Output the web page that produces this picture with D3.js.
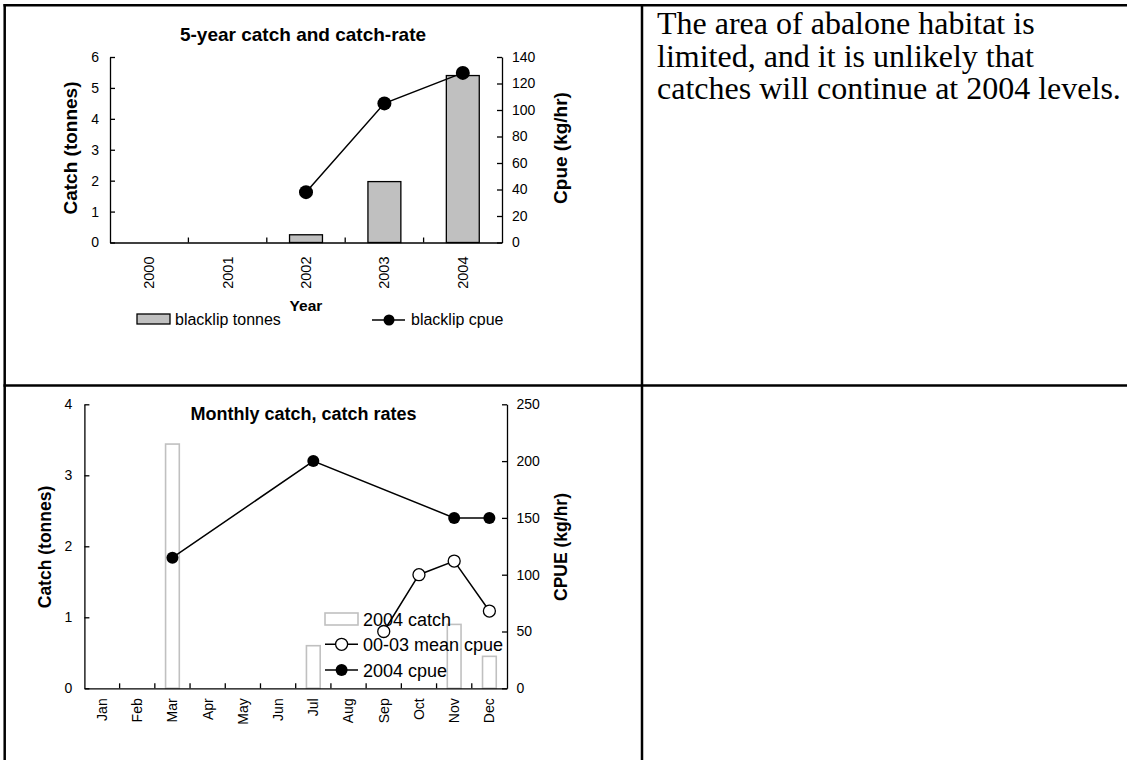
<!DOCTYPE html>
<html><head><meta charset="utf-8">
<script src="https://cdn.jsdelivr.net/npm/d3@7"></script>
<style>
body{margin:0;background:#fff}
svg{display:block}
text{font-family:"Liberation Sans",Arial,sans-serif;fill:#000}
</style>
</head><body>
<svg id="c" width="1127" height="760"></svg>
<script>
// ---- Data: top chart ----
const years = ["2000","2001","2002","2003","2004"];
const blacklipTonnes = [0, 0, 0.25, 1.97, 5.4];
const blacklipCpue = [null, null, 38, 105, 128];
const topLeftTicks = [0,1,2,3,4,5,6];
const topRightTicks = [0,20,40,60,80,100,120,140];

// ---- Data: bottom chart ----
const months = ["Jan","Feb","Mar","Apr","May","Jun","Jul","Aug","Sep","Oct","Nov","Dec"];
const catch2004 = [0,0,3.44,0,0,0,0.6,0,0,0,0.9,0.45];
const meanCpue0003 = [null,null,null,null,null,null,null,null,50,100,112,68];
const cpue2004 = [null,null,115,null,null,null,200,null,null,null,150,150];
const botLeftTicks = [0,1,2,3,4];
const botRightTicks = [0,50,100,150,200,250];

const noteLines = ["The area of abalone habitat is","limited, and it is unlikely that","catches will continue at 2004 levels."];

const svg = d3.select("#c");
const fmt = d3.format("d");

// ---- table frame ----
const frame = svg.append("g").attr("stroke","#000").attr("stroke-width",2.5);
frame.append("line").attr("x1",4.7).attr("x2",4.7).attr("y1",4).attr("y2",760);
frame.append("line").attr("x1",3.5).attr("x2",1127).attr("y1",5.3).attr("y2",5.3);
frame.append("line").attr("x1",642).attr("x2",642).attr("y1",4).attr("y2",760);
frame.append("line").attr("x1",3.5).attr("x2",1127).attr("y1",385.5).attr("y2",385.5);

// ---- note text ----
const note = svg.append("text")
  .style("font-family",'"Liberation Serif","Times New Roman",serif').style("font-size","32px");
noteLines.forEach((t,i)=>note.append("tspan").attr("x",657).attr("y",34.3+i*32.5).text(t));

function styleAxis(g, axis, fs){
  g.call(axis);
  g.selectAll("path,line").attr("stroke","#000").attr("stroke-width",1.3);
  g.selectAll("text").style("font-size",fs+"px").style("font-family",'"Liberation Sans",Arial,sans-serif');
}

// =========== TOP CHART ===========
{
  const x0=110, x1=502, yb=242.5, yt=57;
  const x = d3.scaleBand().domain(years).range([x0,x1]).padding(0);
  const yL = d3.scaleLinear().domain([0,6]).range([yb,yt]);
  const yR = d3.scaleLinear().domain([0,140]).range([yb,yt]);
  const g = svg.append("g");
  const cx = c=>x(c)+x.bandwidth()/2;

  g.append("text").attr("x",303).attr("y",41).attr("text-anchor","middle")
    .style("font-size","19px").style("font-weight","bold").text("5-year catch and catch-rate");

  const bw = x.bandwidth()*0.42;
  g.selectAll("rect.bar").data(years.map((c,i)=>({c,v:blacklipTonnes[i]})).filter(d=>d.v>0))
    .join("rect").attr("x",d=>cx(d.c)-bw/2).attr("width",bw)
    .attr("y",d=>yL(d.v)).attr("height",d=>yb-yL(d.v))
    .attr("fill","#c0c0c0").attr("stroke","#000").attr("stroke-width",1.3);

  styleAxis(g.append("g").attr("transform",`translate(${x0},0)`),
    d3.axisLeft(yL).tickValues(topLeftTicks).tickFormat(fmt).tickSize(-5).tickSizeOuter(0).tickPadding(11), 14);
  styleAxis(g.append("g").attr("transform",`translate(${x1},0)`),
    d3.axisRight(yR).tickValues(topRightTicks).tickFormat(fmt).tickSize(-5).tickSizeOuter(0).tickPadding(10), 14);
  const xa = g.append("g").attr("transform",`translate(0,${yb})`);
  styleAxis(xa, d3.axisBottom(x).tickSize(0).tickSizeOuter(0).tickFormat(""), 14);
  xa.selectAll("line.bt").data(years.slice(1)).join("line").attr("class","bt")
    .attr("x1",d=>x(d)).attr("x2",d=>x(d)).attr("y1",0).attr("y2",-5).attr("stroke","#000").attr("stroke-width",1.3);
  xa.selectAll("text.lab").data(years).join("text").attr("class","lab")
    .attr("transform",d=>`translate(${cx(d)},14) rotate(-90)`)
    .attr("text-anchor","end").attr("dy","0.35em").style("font-size","14.5px").text(d=>d);

  const pts = years.map((c,i)=>({c,v:blacklipCpue[i]})).filter(d=>d.v!=null);
  g.append("path").datum(pts).attr("fill","none").attr("stroke","#000").attr("stroke-width",1.5)
    .attr("d",d3.line().x(d=>cx(d.c)).y(d=>yR(d.v)));
  g.selectAll("circle.p").data(pts).join("circle").attr("cx",d=>cx(d.c)).attr("cy",d=>yR(d.v))
    .attr("r",7).attr("fill","#000");

  g.append("text").attr("transform",`translate(70,148) rotate(-90)`).attr("text-anchor","middle")
    .attr("dy","0.35em").style("font-size","19px").style("font-weight","bold").text("Catch (tonnes)");
  g.append("text").attr("transform",`translate(560,148) rotate(-90)`).attr("text-anchor","middle")
    .attr("dy","0.35em").style("font-size","19px").style("font-weight","bold").text("Cpue (kg/hr)");
  g.append("text").attr("x",306).attr("y",311).attr("text-anchor","middle")
    .style("font-size","15.5px").style("font-weight","bold").text("Year");

  g.append("rect").attr("x",137).attr("y",314).attr("width",33).attr("height",10)
    .attr("fill","#c0c0c0").attr("stroke","#000").attr("stroke-width",1.3);
  g.append("text").attr("x",175).attr("y",325).style("font-size","16px").text("blacklip tonnes");
  g.append("line").attr("x1",372).attr("x2",405).attr("y1",320).attr("y2",320).attr("stroke","#000").attr("stroke-width",1.5);
  g.append("circle").attr("cx",389).attr("cy",320).attr("r",5.5).attr("fill","#000");
  g.append("text").attr("x",411).attr("y",325).style("font-size","16px").text("blacklip cpue");
}

// =========== BOTTOM CHART ===========
{
  const x0=84.4, x1=507, yb=688.3, yt=404.3;
  const x = d3.scaleBand().domain(months).range([x0,x1]).padding(0);
  const yL = d3.scaleLinear().domain([0,4]).range([yb,yt]);
  const yR = d3.scaleLinear().domain([0,250]).range([yb,yt]);
  const g = svg.append("g");
  const cx = c=>x(c)+x.bandwidth()/2;

  g.append("text").attr("x",303.5).attr("y",420).attr("text-anchor","middle")
    .style("font-size","18px").style("font-weight","bold").text("Monthly catch, catch rates");

  const bw = x.bandwidth()*0.39;
  g.selectAll("rect.bar").data(months.map((c,i)=>({c,v:catch2004[i]})).filter(d=>d.v>0))
    .join("rect").attr("x",d=>cx(d.c)-bw/2).attr("width",bw)
    .attr("y",d=>yL(d.v)).attr("height",d=>yb-yL(d.v))
    .attr("fill","none").attr("stroke","#c0c0c0").attr("stroke-width",1.6);

  styleAxis(g.append("g").attr("transform",`translate(${x0},0)`),
    d3.axisLeft(yL).tickValues(botLeftTicks).tickFormat(fmt).tickSize(-5).tickSizeOuter(0).tickPadding(12), 14);
  styleAxis(g.append("g").attr("transform",`translate(${x1},0)`),
    d3.axisRight(yR).tickValues(botRightTicks).tickFormat(fmt).tickSize(-5).tickSizeOuter(0).tickPadding(9.5), 14);
  const xa = g.append("g").attr("transform",`translate(0,${yb})`);
  styleAxis(xa, d3.axisBottom(x).tickSize(0).tickSizeOuter(0).tickFormat(""), 14);
  xa.selectAll("line.bt").data(months.slice(1)).join("line").attr("class","bt")
    .attr("x1",d=>x(d)).attr("x2",d=>x(d)).attr("y1",0).attr("y2",-5).attr("stroke","#000").attr("stroke-width",1.3);
  xa.selectAll("text.lab").data(months).join("text").attr("class","lab")
    .attr("transform",d=>`translate(${cx(d)},10) rotate(-90)`)
    .attr("text-anchor","end").attr("dy","0.35em").style("font-size","14px").text(d=>d);

  const line = d3.line().x(d=>cx(d.c)).y(d=>yR(d.v));
  const mean = months.map((c,i)=>({c,v:meanCpue0003[i]})).filter(d=>d.v!=null);
  const c04 = months.map((c,i)=>({c,v:cpue2004[i]})).filter(d=>d.v!=null);
  g.append("path").datum(mean).attr("fill","none").attr("stroke","#000").attr("stroke-width",1.5).attr("d",line);
  g.append("path").datum(c04).attr("fill","none").attr("stroke","#000").attr("stroke-width",1.5).attr("d",line);
  g.selectAll("circle.m").data(mean).join("circle").attr("cx",d=>cx(d.c)).attr("cy",d=>yR(d.v))
    .attr("r",6).attr("fill","#fff").attr("stroke","#000").attr("stroke-width",1.3);
  g.selectAll("circle.f").data(c04).join("circle").attr("cx",d=>cx(d.c)).attr("cy",d=>yR(d.v))
    .attr("r",6).attr("fill","#000");

  g.append("text").attr("transform",`translate(45,547) rotate(-90)`).attr("text-anchor","middle")
    .attr("dy","0.35em").style("font-size","17.5px").style("font-weight","bold").text("Catch (tonnes)");
  g.append("text").attr("transform",`translate(561,547) rotate(-90)`).attr("text-anchor","middle")
    .attr("dy","0.35em").style("font-size","17.5px").style("font-weight","bold").text("CPUE (kg/hr)");

  const lg = g.append("g");
  lg.append("rect").attr("x",325).attr("y",613).attr("width",33).attr("height",12)
    .attr("fill","#fff").attr("stroke","#c0c0c0").attr("stroke-width",1.6);
  lg.append("text").attr("x",363).attr("y",626).style("font-size","18px").text("2004 catch");
  lg.append("line").attr("x1",325).attr("x2",358).attr("y1",644.3).attr("y2",644.3).attr("stroke","#000").attr("stroke-width",1.5);
  lg.append("circle").attr("cx",341.6).attr("cy",644.3).attr("r",6).attr("fill","#fff").attr("stroke","#000").attr("stroke-width",1.3);
  lg.append("text").attr("x",363).attr("y",650.5).style("font-size","18px").text("00-03 mean cpue");
  lg.append("line").attr("x1",325).attr("x2",358).attr("y1",670).attr("y2",670).attr("stroke","#000").attr("stroke-width",1.5);
  lg.append("circle").attr("cx",341.6).attr("cy",670).attr("r",6).attr("fill","#000");
  lg.append("text").attr("x",363).attr("y",677).style("font-size","18px").text("2004 cpue");
}
</script>
</body></html>
